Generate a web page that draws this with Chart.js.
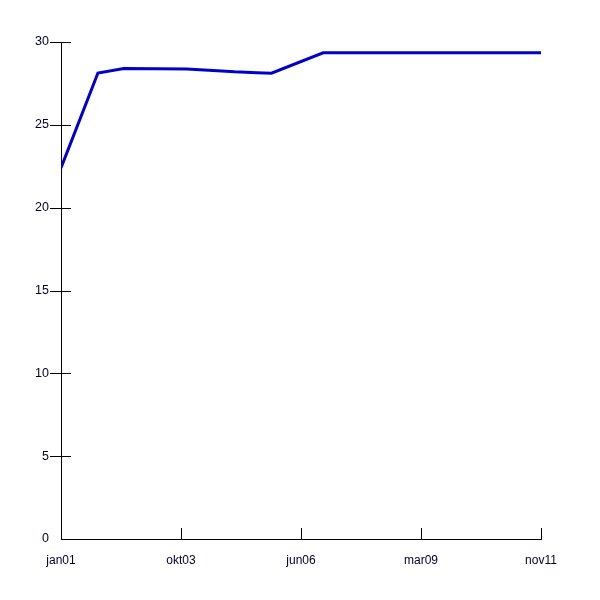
<!DOCTYPE html>
<html>
<head>
<meta charset="utf-8">
<script src="https://cdn.jsdelivr.net/npm/chart.js@4"></script>
<style>
html,body{margin:0;padding:0;background:#fff;}
#wrap{width:600px;height:600px;}
</style>
</head>
<body>
<div id="wrap"><canvas id="c" width="600" height="600"></canvas></div>
<script>
// Month index counted from jan01 (0) for each vertex of the line
const pointMonths = [0, 10, 17, 34, 40, 47, 53, 57, 71, 130];
const values = [22.4, 28.13, 28.4, 28.37, 28.3, 28.2, 28.15, 28.12, 29.35, 29.35];
// x-axis tick positions (months) and labels
const tickMonths = [0, 32.5, 65, 97.5, 130];
const tickLabels = ["jan01", "okt03", "jun06", "mar09", "nov11"];
const yTicks = [0, 5, 10, 15, 20, 25, 30];

const points = pointMonths.map((m, i) => ({x: m, y: values[i]}));

const tickMarks = {
  id: 'tickMarks',
  afterDraw(chart) {
    const ctx = chart.ctx;
    const xs = chart.scales.x, ys = chart.scales.y;
    const area = chart.chartArea;
    ctx.save();
    ctx.strokeStyle = '#000';
    ctx.lineWidth = 1;
    ctx.beginPath();
    yTicks.forEach(v => {
      if (v === 0) return;
      const py = Math.round(ys.getPixelForValue(v)) + 0.5;
      ctx.moveTo(area.left - 11, py);
      ctx.lineTo(area.left + 10, py);
    });
    tickMonths.forEach(m => {
      if (m === 0) return;
      const px = Math.round(xs.getPixelForValue(m)) + 0.5;
      ctx.moveTo(px, area.bottom - 11);
      ctx.lineTo(px, area.bottom);
    });
    ctx.stroke();
    ctx.restore();
  }
};

new Chart(document.getElementById('c'), {
  type: 'line',
  data: {
    datasets: [{
      data: points,
      borderColor: '#0000cc',
      borderWidth: 3,
      pointRadius: 0,
      tension: 0,
      fill: false
    }]
  },
  options: {
    responsive: false,
    animation: false,
    devicePixelRatio: 1,
    layout: {padding: {top: 42, right: 59, left: 0, bottom: 0}},
    plugins: {legend: {display: false}, tooltip: {enabled: false}},
    scales: {
      x: {
        type: 'linear',
        min: 0,
        max: 130,
        afterBuildTicks(scale) {
          scale.ticks = tickMonths.map(v => ({value: v}));
        },
        afterFit(scale) { scale.height = 61; },
        border: {display: true, color: '#000', width: 1},
        grid: {display: true, drawOnChartArea: false, drawTicks: false, color: 'rgba(0,0,0,0)'},
        ticks: {
          autoSkip: false,
          maxRotation: 0,
          padding: 14,
          color: '#000033',
          font: {family: 'Liberation Sans, Arial, sans-serif', size: 12},
          callback(v) {
            const i = tickMonths.indexOf(v);
            return i >= 0 ? tickLabels[i] : '';
          }
        }
      },
      y: {
        min: 0,
        max: 30,
        afterBuildTicks(scale) {
          scale.ticks = yTicks.map(v => ({value: v}));
        },
        afterFit(scale) { scale.width = 61; },
        border: {display: true, color: '#000', width: 1},
        grid: {display: true, drawOnChartArea: false, drawTicks: false, color: 'rgba(0,0,0,0)'},
        ticks: {
          padding: 12,
          color: '#000033',
          font: {family: 'Liberation Sans, Arial, sans-serif', size: 12.5}
        }
      }
    }
  },
  plugins: [tickMarks]
});
</script>
</body>
</html>
